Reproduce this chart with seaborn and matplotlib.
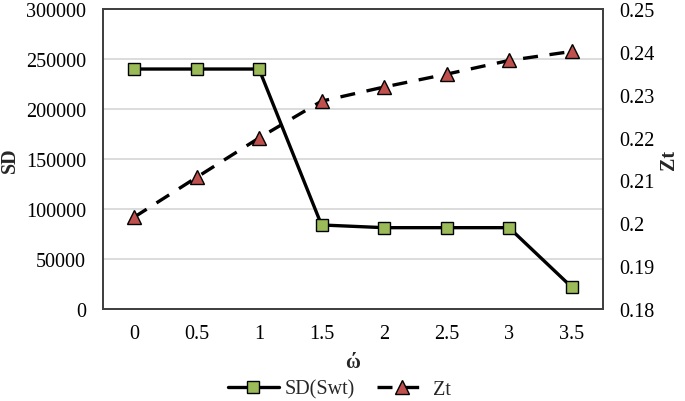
import matplotlib
matplotlib.use("Agg")
import matplotlib.pyplot as plt
import matplotlib.ticker as mticker
import pandas as pd
import seaborn as sns

omega = ["0", "0.5", "1", "1.5", "2", "2.5", "3", "3.5"]
sd_swt = [240000, 240000, 240000, 84000, 81300, 81300, 81300, 22000]
zt = [0.2014, 0.2107, 0.2199, 0.2285, 0.2318, 0.2348, 0.2380, 0.2401]

FS = 14.5

sns.set_theme(style="white")
plt.rcParams["font.family"] = ["Liberation Serif", "DejaVu Serif"]
plt.rcParams["font.size"] = FS

df = pd.DataFrame({"omega": omega, "SD": sd_swt, "Zt": zt})

fig = plt.figure(figsize=(6.85, 4.02), dpi=100)
ax = fig.add_axes([0.150, 0.229, 0.730, 0.746])
ax2 = ax.twinx()

sns.lineplot(data=df, x="omega", y="SD", ax=ax, color="black", lw=2.4,
             marker="s", markersize=8.5, markerfacecolor="#9BBB59",
             markeredgecolor="black", markeredgewidth=1.0, label="SD(Swt)",
             legend=False, sort=False)
sns.lineplot(data=df, x="omega", y="Zt", ax=ax2, color="black", lw=2.4,
             marker="^", markersize=9.5, markerfacecolor="#C0504D",
             markeredgecolor="black", markeredgewidth=1.0, label="Zt",
             legend=False, sort=False)
ax2.lines[0].set_dashes((4.5, 3.5))

ax.set_xlim(-0.5, len(omega) - 0.5)
ax.set_ylim(0, 300000)
ax.yaxis.set_major_locator(mticker.MultipleLocator(50000))
ax2.set_ylim(0.18, 0.25)
ax2.yaxis.set_major_locator(mticker.MultipleLocator(0.01))
ax2.yaxis.set_major_formatter(mticker.FormatStrFormatter("%g"))

ax.grid(axis="y", color="#D9D9D9", lw=1.3)
ax.grid(axis="x", visible=False)
ax2.grid(False)
ax.set_axisbelow(True)

for a in (ax, ax2):
    for s in a.spines.values():
        s.set_color("#404040")
        s.set_linewidth(1.3)
    a.tick_params(length=0, labelsize=FS, colors="black")
ax.tick_params(axis="y", pad=12)
ax.tick_params(axis="x", pad=11)
ax2.tick_params(axis="y", pad=11.5)

ax.set_xlabel("ώ", fontweight="bold", fontsize=FS)
ax.xaxis.set_label_coords(0.5, -0.177)
ax.xaxis.label.set_va("center")
ax.set_ylabel("SD", fontweight="bold", fontsize=FS)
ax.yaxis.set_label_coords(-0.186, 0.5)
ax.yaxis.label.set_va("center")
ax2.set_ylabel("Zt", fontweight="bold", fontsize=FS, rotation=90)
ax2.yaxis.set_label_coords(1.132, 0.5)
ax2.yaxis.label.set_va("center")

h1, l1 = ax.get_legend_handles_labels()
h2, l2 = ax2.get_legend_handles_labels()
fig.legend(h1 + h2, l1 + l2, loc="center", bbox_to_anchor=(0.496, 0.030),
           ncol=2, frameon=False, fontsize=FS, handlelength=2.5,
           columnspacing=1.1, handletextpad=0.3, borderpad=0)

fig.savefig("out.png", dpi=100)
